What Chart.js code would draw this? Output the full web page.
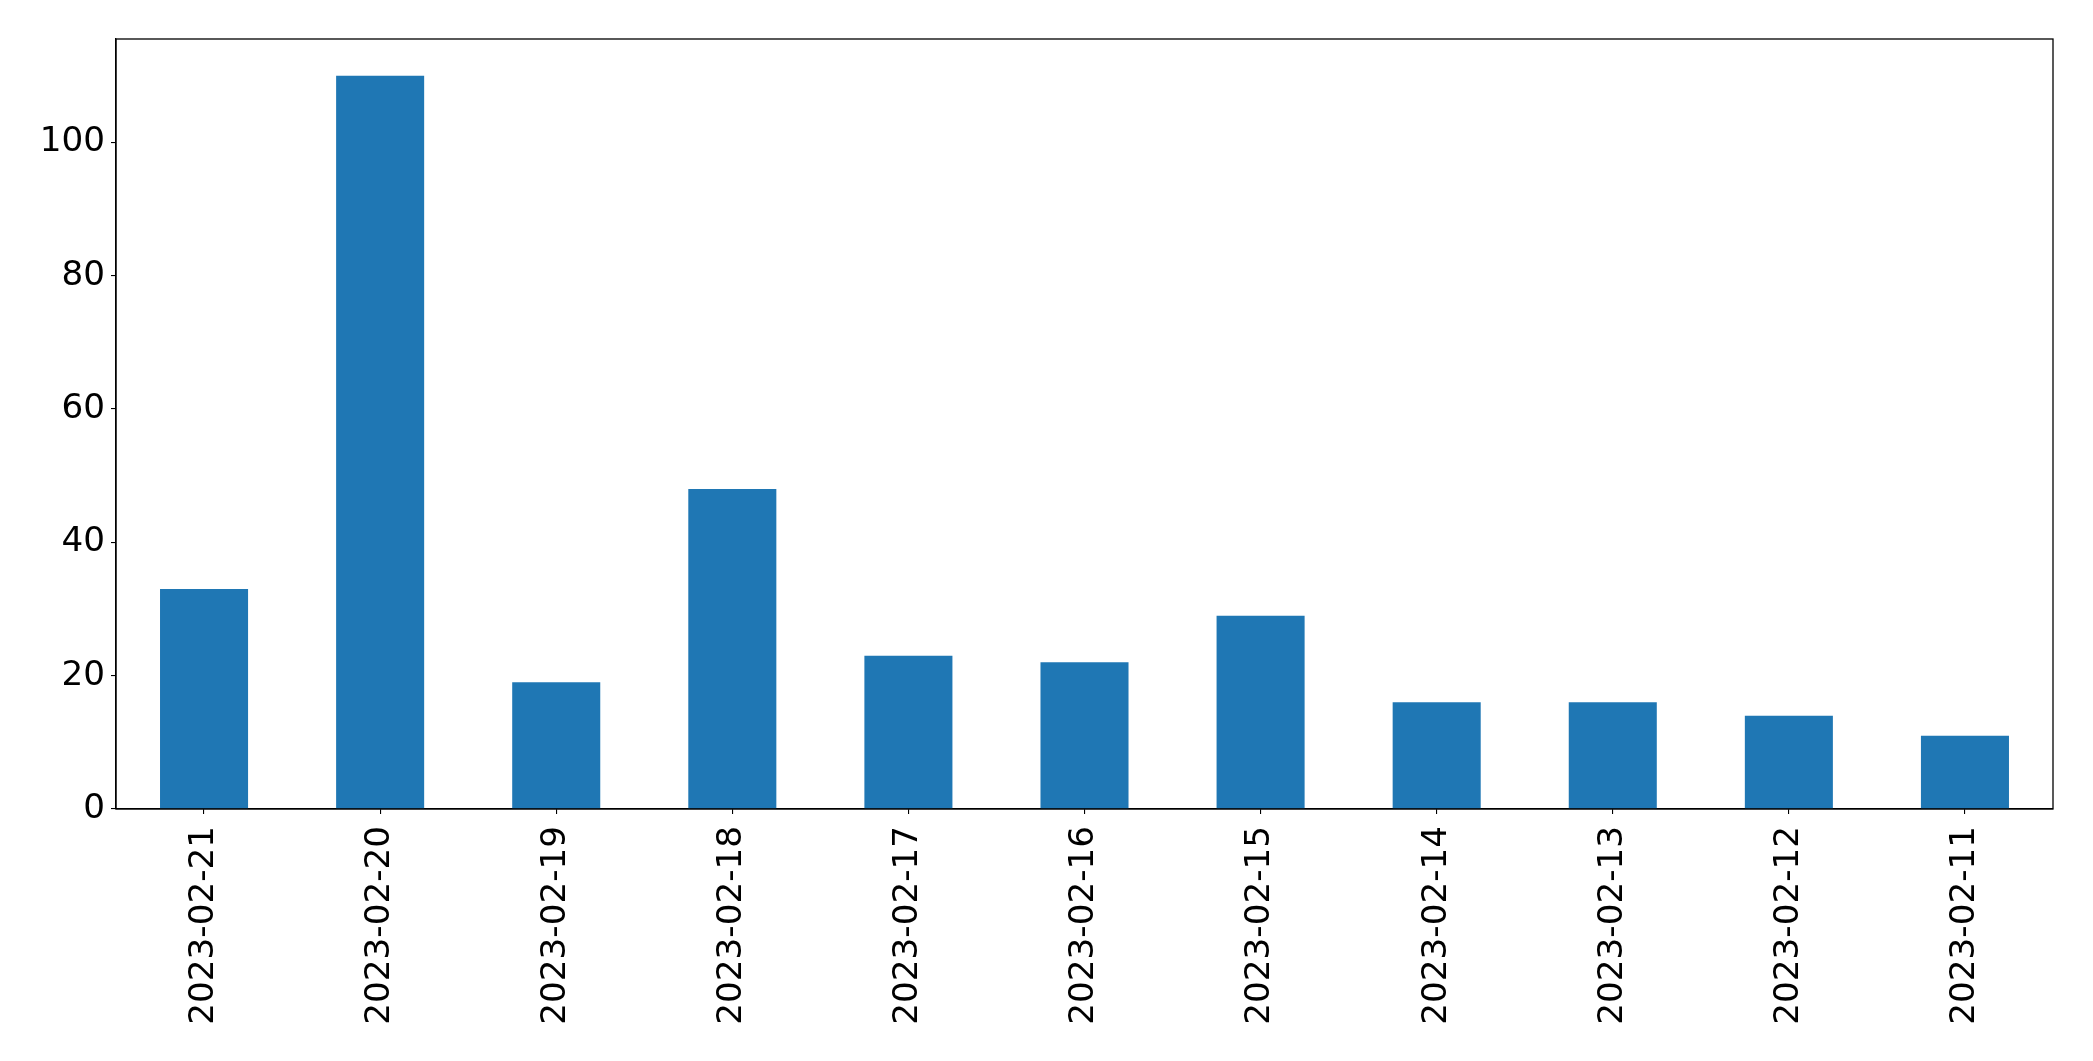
<!DOCTYPE html>
<html>
<head>
<meta charset="utf-8">
<script src="https://cdn.jsdelivr.net/npm/chart.js@4/dist/chart.umd.min.js"></script>
<style>
html,body{margin:0;padding:0;background:#fff;}
#wrap{width:2093px;height:1061px;position:relative;}
</style>
</head>
<body>
<div id="wrap"><canvas id="c" width="2093" height="1061"></canvas></div>
<script>
const categories = ["2023-02-21","2023-02-20","2023-02-19","2023-02-18","2023-02-17","2023-02-16","2023-02-15","2023-02-14","2023-02-13","2023-02-12","2023-02-11"];
const counts = [33,110,19,48,23,22,29,16,16,14,11];
const yTicks = [0,20,40,60,80,100];
const yMax = 115.5;

const frame = {
  id: 'frame',
  afterDatasetsDraw(chart){
    const a = chart.chartArea, ctx = chart.ctx;
    ctx.save();
    ctx.strokeStyle = '#000';
    ctx.lineWidth = 1.3;
    ctx.strokeRect(a.left, a.top, a.right - a.left, a.bottom - a.top);
    ctx.restore();
  }
};

new Chart(document.getElementById('c'), {
  type: 'bar',
  data: {
    labels: categories,
    datasets: [{
      data: counts,
      backgroundColor: '#1f77b4',
      borderWidth: 0,
      barPercentage: 0.5,
      categoryPercentage: 1.0
    }]
  },
  options: {
    responsive: false,
    animation: false,
    devicePixelRatio: 1,
    layout: { padding: { left: 0, right: 40, top: 39, bottom: 0 } },
    plugins: { legend: { display: false }, tooltip: { enabled: false } },
    scales: {
      x: {
        offset: true,
        grid: { display: true, drawOnChartArea: false, drawTicks: true, tickLength: 5, color: '#000', lineWidth: 1.1, offset: false },
        border: { display: true, color: '#000', width: 1.3 },
        ticks: {
          color: '#000',
          font: { family: 'DejaVu Sans', size: 34.2 },
          minRotation: 90, maxRotation: 90,
          autoSkip: false,
          padding: 12
        },
        afterFit(scale){ scale.height = 1061 - 809; }
      },
      y: {
        min: 0, max: yMax,
        afterBuildTicks(scale){ scale.ticks = yTicks.map(v => ({ value: v })); },
        grid: { display: true, drawOnChartArea: false, drawTicks: true, tickLength: 5, color: '#000', lineWidth: 1.1 },
        border: { display: true, color: '#000', width: 1.3 },
        ticks: {
          color: '#000',
          font: { family: 'DejaVu Sans', size: 34.2 },
          padding: 6
        },
        afterFit(scale){ scale.width = 116; }
      }
    }
  },
  plugins: [frame]
});
</script>
</body>
</html>
